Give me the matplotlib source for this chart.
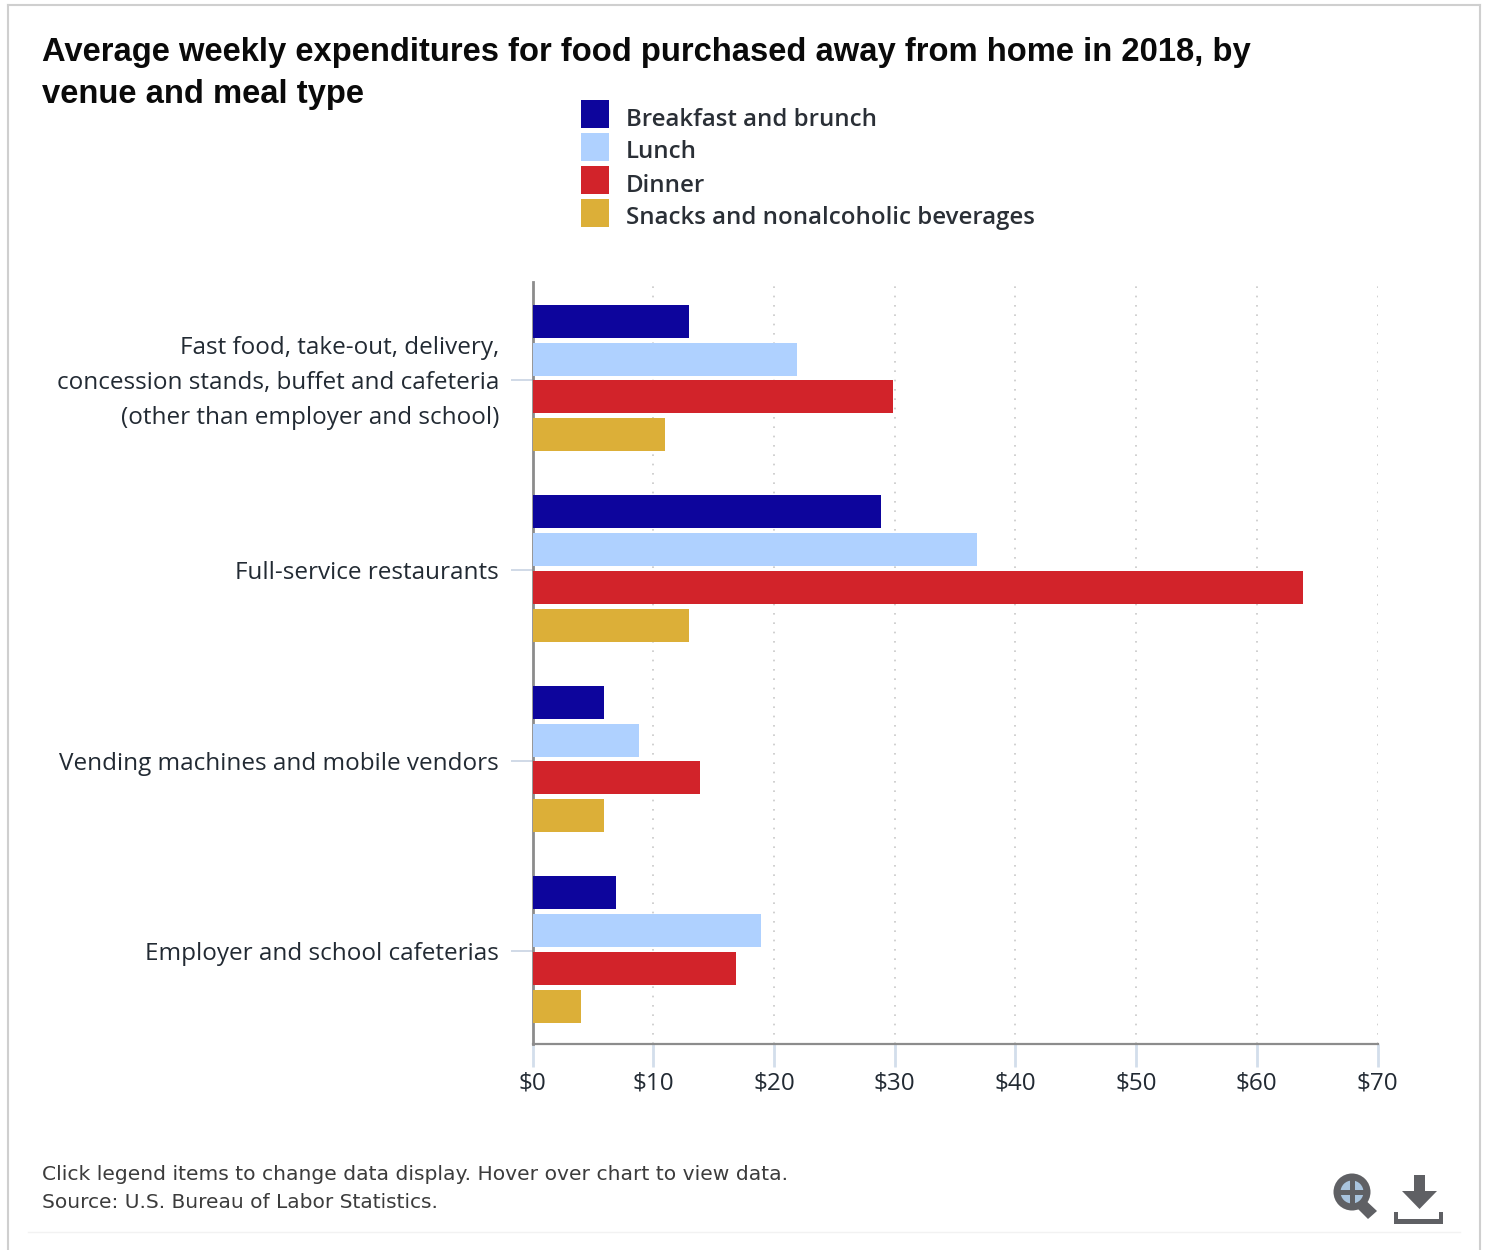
#!/usr/bin/env python3
import matplotlib
matplotlib.use("Agg")
import matplotlib.pyplot as plt
from matplotlib.lines import Line2D
from matplotlib.patches import Circle, Polygon, Rectangle
from matplotlib.transforms import ScaledTranslation

W, H = 1486, 1250

venues = [
    "Fast food, take-out, delivery,\nconcession stands, buffet and cafeteria\n(other than employer and school)",
    "Full-service restaurants",
    "Vending machines and mobile vendors",
    "Employer and school cafeterias",
]
meals = ["Breakfast and brunch", "Lunch", "Dinner", "Snacks and nonalcoholic beverages"]
meal_colors = ["#0d059c", "#afd1ff", "#d2232a", "#dcaf38"]

breakfast = [12.95, 28.85, 5.9, 6.9]
lunch = [21.9, 36.85, 8.8, 18.9]
dinner = [29.85, 63.85, 13.9, 16.85]
snacks = [10.95, 12.95, 5.9, 4.0]
series = [breakfast, lunch, dinner, snacks]

x_ticks = [0, 10, 20, 30, 40, 50, 60, 70]
x_labels = ["$0", "$10", "$20", "$30", "$40", "$50", "$60", "$70"]

LABEL_FONT = "Open Sans"
TEXT = "#222a33"


def fx(px):
    return px / W


def fy(py):
    return 1 - py / H


fig = plt.figure(figsize=(W / 100, H / 100), dpi=100, facecolor="white")

# chart frame and the faint rule under the footer
for x0, y0, x1, y1, color, lw in [
    (8, 5, 1480, 5, "#cfcfcf", 1.5),
    (8, 5, 8, 1250, "#cfcfcf", 1.5),
    (1480, 5, 1480, 1250, "#cfcfcf", 1.5),
    (28, 1232, 1460, 1232, "#f2f2f2", 1.0),
]:
    fig.add_artist(Line2D([fx(x0), fx(x1)], [fy(y0), fy(y1)], color=color, lw=lw))

ax = fig.add_axes([fx(532.5), fy(1044), fx(1377.5 - 532.5), (1044 - 282) / H])
ax.set_xlim(0, 70)
ax.set_ylim(3.496, -0.504)

bar_h = 0.173
for i, (values, color) in enumerate(zip(series, meal_colors)):
    offsets = [v + (i - 1.5) * 0.199 for v in range(len(venues))]
    ax.barh(offsets, values, height=bar_h, color=color, zorder=3)

ax.set_xticks(x_ticks)
ax.set_xticklabels(x_labels, fontsize=17.5, family=LABEL_FONT, color=TEXT)
# tick marks sit a touch below the centre of each bar group
ax.set_yticks([v + 0.008 for v in range(len(venues))])
ax.set_yticklabels(venues, fontsize=17.5, family=LABEL_FONT, color=TEXT, linespacing=1.61)
ax.tick_params(axis="x", length=16.5, width=2, color="#d3deeb", pad=3)
ax.tick_params(axis="y", length=16, width=1.2, color="#c8d3e3", pad=8)

# the three-line label rides a little high
first = ax.get_yticklabels()[0]
first.set_transform(first.get_transform() + ScaledTranslation(0, 5 / 100, fig.dpi_scale_trans))

ax.grid(axis="x", linestyle=(0, (1, 4.6)), color="#c8c8c8", lw=1.2, zorder=0)
ax.set_axisbelow(True)
for side in ["top", "right"]:
    ax.spines[side].set_visible(False)
ax.spines["left"].set_color("#8c8c8c")
ax.spines["left"].set_linewidth(2)
ax.spines["bottom"].set_color("#8c8c8c")
ax.spines["bottom"].set_linewidth(1.6)

fig.text(fx(42), fy(52), "Average weekly expenditures for food purchased away from home in 2018, by",
         family="Liberation Sans", weight="bold", fontsize=23.57, color="#0a0a0a", va="center")
fig.text(fx(42), fy(95), "venue and meal type",
         family="Liberation Sans", weight="bold", fontsize=23.57, color="#0a0a0a", va="center")

# legend swatches and labels
for i, (meal, color) in enumerate(zip(meals, meal_colors)):
    top = 100 + i * 33
    fig.add_artist(Rectangle((fx(581), fy(top + 28)), fx(28), 28 / H, color=color, lw=0))
    fig.text(fx(626), fy(top + 19.5), meal, family=LABEL_FONT, weight="semibold",
             fontsize=17.3, color="#2a2f36", va="center")

fig.text(fx(42), fy(1175), "Click legend items to change data display. Hover over chart to view data.",
         family="DejaVu Sans", fontsize=14.6, color="#3c3c3c", va="center")
fig.text(fx(42), fy(1203), "Source: U.S. Bureau of Labor Statistics.",
         family="DejaVu Sans", fontsize=14.5, color="#3c3c3c", va="center")

# zoom and download icons, drawn on an overlay axes in pixel units
icons = fig.add_axes([0, 0, 1, 1], facecolor="none")
icons.set_xlim(0, W)
icons.set_ylim(H, 0)
icons.axis("off")
GREY = "#5f6064"
icons.add_patch(Polygon([(1353, 1204), (1361, 1196), (1377, 1211), (1368, 1219)], color=GREY, lw=0))
icons.add_patch(Circle((1352, 1192), 18.5, color=GREY, lw=0))
icons.add_patch(Circle((1352, 1192), 11.5, color="#a9c4de", lw=0))
icons.add_patch(Rectangle((1349.5, 1180), 5, 24, color=GREY, lw=0))
icons.add_patch(Rectangle((1340, 1189.5), 24, 5, color=GREY, lw=0))
icons.add_patch(Rectangle((1414, 1175), 11, 17, color=GREY, lw=0))
icons.add_patch(Polygon([(1402, 1191), (1437, 1191), (1419.5, 1209)], color=GREY, lw=0))
icons.add_patch(Polygon([(1394, 1212), (1398, 1212), (1398, 1219), (1439, 1219), (1439, 1212),
                         (1443, 1212), (1443, 1224), (1394, 1224)], color=GREY, lw=0))

fig.savefig("out.png", dpi=100)
